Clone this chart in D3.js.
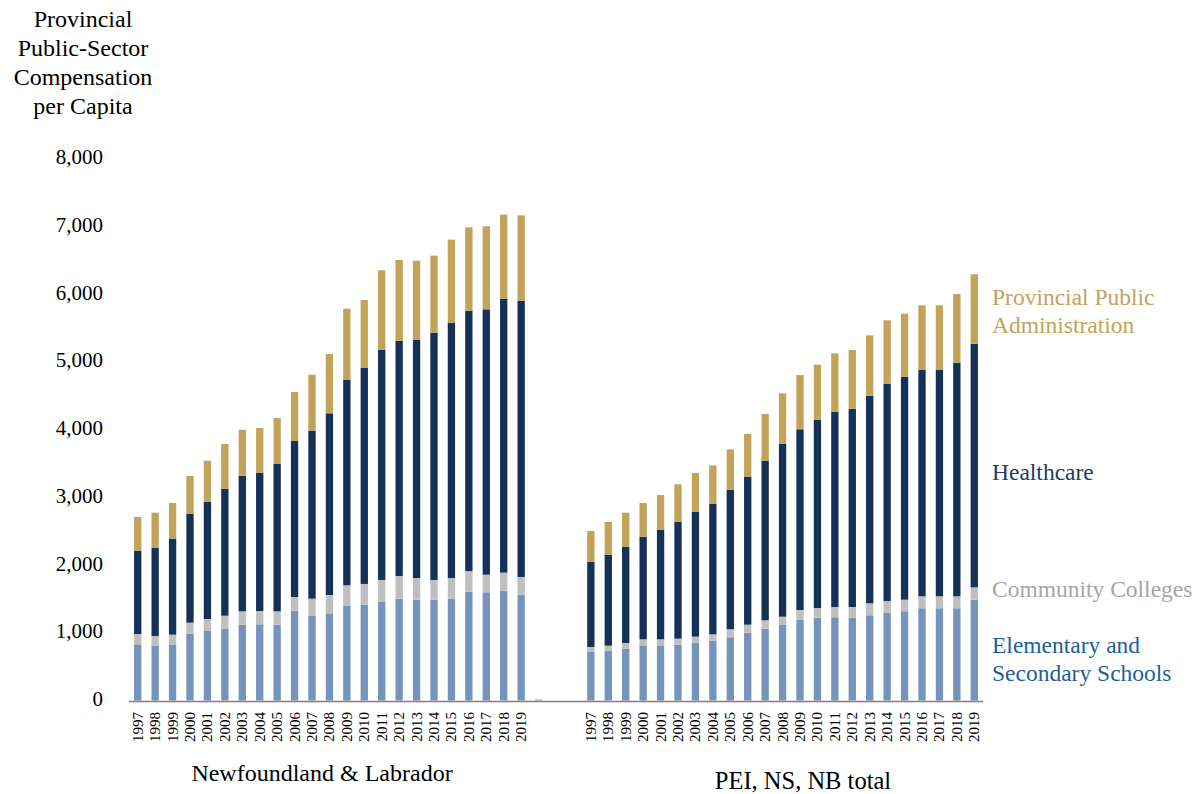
<!DOCTYPE html>
<html>
<head>
<meta charset="utf-8">
<script src="https://cdn.jsdelivr.net/npm/d3@7"></script>
<style>
  body { margin: 0; background: #fff; }
  svg, text, tspan { font-family: "Liberation Serif", "DejaVu Serif", serif; }
</style>
</head>
<body>
<svg></svg>
<script>
const years = d3.range(1997, 2020).map(String);
const series = ["elementary", "colleges", "health", "admin"];
const seriesLabels = [["Elementary and", "Secondary Schools"], ["Community Colleges"], ["Healthcare"], ["Provincial Public", "Administration"]];
const barColors = ["#7593bb", "#bfbfbf", "#163157", "#c2a35a"];
const textColors = ["#1f5f96", "#a6a6a6", "#1f3a5f", "#c2a35a"];
const yTicks = [0, 1000, 2000, 3000, 4000, 5000, 6000, 7000, 8000];

const nlElementary = [819, 809, 819, 986, 1026, 1060, 1119, 1124, 1119, 1326, 1252, 1287, 1400, 1414, 1459, 1503, 1488, 1488, 1503, 1606, 1597, 1621, 1562];
const nlColleges = [162, 143, 153, 163, 177, 192, 197, 197, 197, 202, 251, 270, 300, 306, 320, 335, 320, 291, 305, 305, 260, 266, 261];
const nlHealth = [1230, 1304, 1417, 1604, 1732, 1875, 2002, 2042, 2175, 2302, 2480, 2682, 3031, 3188, 3399, 3473, 3518, 3650, 3769, 3843, 3917, 4044, 4079];
const nlAdmin = [497, 516, 526, 561, 605, 659, 679, 659, 679, 724, 826, 875, 1052, 1003, 1172, 1191, 1166, 1137, 1225, 1230, 1225, 1240, 1259];

const mElementary = [716, 735, 765, 814, 814, 824, 853, 883, 933, 1001, 1060, 1119, 1193, 1222, 1228, 1222, 1258, 1296, 1317, 1361, 1361, 1361, 1488];
const mColleges = [74, 74, 84, 89, 89, 89, 89, 94, 118, 118, 124, 118, 143, 143, 152, 158, 177, 173, 171, 177, 177, 177, 183];
const mHealth = [1254, 1343, 1422, 1515, 1618, 1726, 1845, 1928, 2061, 2185, 2356, 2553, 2667, 2780, 2883, 2927, 3064, 3207, 3292, 3340, 3340, 3448, 3595];
const mAdmin = [458, 483, 501, 497, 512, 552, 571, 566, 595, 630, 689, 744, 801, 812, 861, 866, 891, 936, 929, 955, 955, 1014, 1025];

// spacer slots between the two groups (first one carries a tiny value)
const gapAdmin = [15, 0, 0];

const width = 1201, height = 794;
const serif = "'Liberation Serif', 'DejaVu Serif', serif";
const svg = d3.select("svg")
  .attr("width", width)
  .attr("height", height)
  .attr("font-family", serif);

const rows = [];
years.forEach((y, i) => rows.push({ key: "NL" + y, label: y, elementary: nlElementary[i], colleges: nlColleges[i], health: nlHealth[i], admin: nlAdmin[i] }));
gapAdmin.forEach((v, i) => rows.push({ key: "gap" + i, label: "", elementary: 0, colleges: 0, health: 0, admin: v }));
years.forEach((y, i) => rows.push({ key: "M" + y, label: y, elementary: mElementary[i], colleges: mColleges[i], health: mHealth[i], admin: mAdmin[i] }));

const x = d3.scaleBand()
  .domain(rows.map((d) => d.key))
  .range([129, 983])
  .paddingInner(0.58)
  .paddingOuter(0.29);

const y = d3.scaleLinear().domain([0, 8000]).range([700.5, 158.5]);

const stacked = d3.stack().keys(series)(rows);

svg.append("g")
  .selectAll("g")
  .data(stacked)
  .join("g")
  .attr("fill", (d, i) => barColors[i])
  .selectAll("rect")
  .data((d) => d)
  .join("rect")
  .attr("x", (d) => x(d.data.key))
  .attr("width", x.bandwidth())
  .attr("y", (d) => y(d[1]))
  .attr("height", (d) => y(d[0]) - y(d[1]));

// baseline
svg.append("line")
  .attr("x1", 129).attr("x2", 983)
  .attr("y1", 701.5).attr("y2", 701.5)
  .attr("stroke", "#7f7f7f")
  .attr("stroke-width", 1.5);

// y tick labels
const yAxis = svg.append("g")
  .attr("transform", "translate(103,-1.5)")
  .call(d3.axisLeft(y).tickValues(yTicks).tickSize(0).tickPadding(0).tickFormat(d3.format(",")));
yAxis.attr("font-family", serif).attr("font-size", 21);
yAxis.select(".domain").remove();
yAxis.selectAll("text").attr("fill", "#000");

// y title
const title = ["Provincial", "Public-Sector", "Compensation", "per Capita"];
svg.append("text")
  .attr("text-anchor", "middle")
  .attr("font-size", 24)
  .selectAll("tspan")
  .data(title)
  .join("tspan")
  .attr("x", 83)
  .attr("y", (d, i) => 27 + i * 29)
  .text((d) => d);

// year labels
svg.append("g")
  .selectAll("text")
  .data(rows.filter((d) => d.label))
  .join("text")
  .attr("transform", (d) => `translate(${x(d.key) + x.bandwidth() / 2 + 5},712) rotate(-90)`)
  .attr("text-anchor", "end")
  .attr("font-size", 15)
  .text((d) => d.label);

// group labels
svg.append("text")
  .attr("x", 322).attr("y", 781)
  .attr("text-anchor", "middle")
  .attr("font-size", 24)
  .text("Newfoundland & Labrador");
svg.append("text")
  .attr("x", 803).attr("y", 789)
  .attr("text-anchor", "middle")
  .attr("font-size", 24.5)
  .text("PEI, NS, NB total");

// legend at the right
const legendY = [653, 597, 480, 305];
const legend = svg.append("g");
series.forEach((s, i) => {
  legend.append("text")
    .attr("font-size", 23.5)
    .attr("fill", textColors[i])
    .selectAll("tspan")
    .data(seriesLabels[i])
    .join("tspan")
    .attr("x", 992)
    .attr("y", (d, j) => legendY[i] + j * 27.5)
    .text((d) => d);
});
</script>
</body>
</html>
